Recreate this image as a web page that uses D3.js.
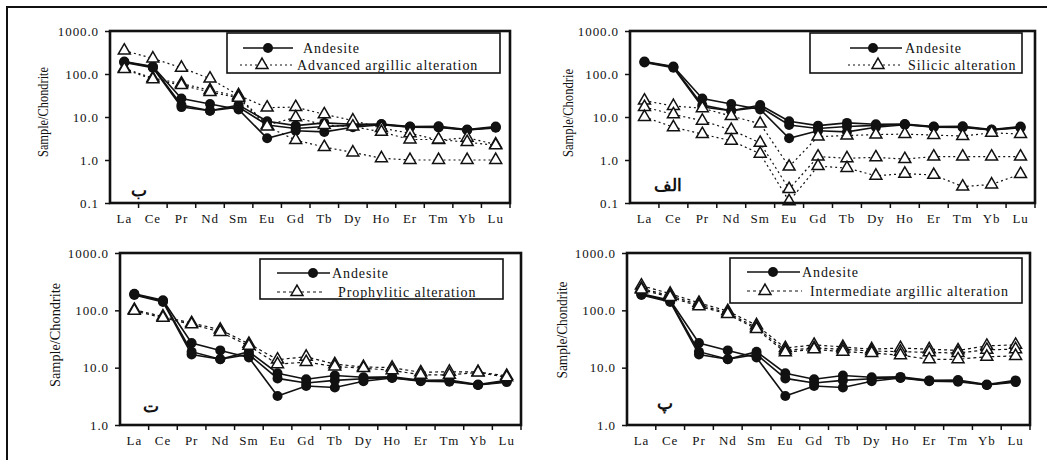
<!DOCTYPE html>
<html><head><meta charset="utf-8">
<script src="https://cdn.jsdelivr.net/npm/d3@7/dist/d3.min.js"></script>
<style>
html,body{margin:0;padding:0;background:#fff;}
svg{display:block;}
text{font-family:"Liberation Serif","Times New Roman",serif;fill:#111;}
</style></head>
<body>
<svg id="chart" width="1053" height="460"></svg>
<script>
// ---------------- data ----------------
const elements = ["La","Ce","Pr","Nd","Sm","Eu","Gd","Tb","Dy","Ho","Er","Tm","Yb","Lu"];
const yTicksTop = [0.1, 1, 10, 100, 1000];
const yTicksBottom = [1, 10, 100, 1000];

const andesite = [
  [195, 150, 27, 20, 15, 3.2, 4.8, 4.5, 5.8, 6.6, 5.8, 5.7, 5.0, 5.6],
  [190, 145, 19, 14, 19, 8.0, 6.3, 7.3, 6.8, 6.9, 6.0, 6.1, 5.1, 6.0],
  [185, 140, 17, 14, 17, 6.5, 5.4, 6.0, 6.4, 6.7, 5.9, 5.9, 5.0, 5.8]
];
const advancedArgillic = [
  [350, 230, 140, 78, 32, 16.5, 17, 11.5, 8.3, 5.5, 4.2, 2.9, 3.3, 2.3],
  [135, 80, 60, 42, 30, 6.5, 9.8, 6.5, 6.0, 4.5, 3.0, 3.0, 2.6, 2.2],
  [130, 75, 55, 38, 28, 6.0, 2.9, 2.0, 1.5, 1.1, 1.0, 1.0, 1.0, 1.0]
];
const silicic = [
  [24, 18, 16, 10.5, 7.0, 0.70, 3.5, 3.7, 3.9, 4.0, 3.8, 3.6, 4.3, 4.0],
  [17, 11.5, 8.2, 5.0, 2.5, 0.21, 1.2, 1.1, 1.15, 1.05, 1.2, 1.2, 1.2, 1.2],
  [10, 5.8, 4.0, 2.8, 1.4, 0.11, 0.72, 0.65, 0.43, 0.48, 0.45, 0.24, 0.27, 0.47]
];
const prophylitic = [
  [102, 78, 60, 46, 26, 13.8, 15.5, 11.5, 10.3, 10, 8.3, 8.5, 8.4, 7.2],
  [98, 74, 57, 42, 24, 11.5, 12.5, 10.5, 9.8, 9, 7.5, 7.5, 8.2, 6.8]
];
const intermediateArgillic = [
  [270, 195, 135, 97, 55, 22, 25, 23, 21, 22, 21, 20, 24, 25],
  [240, 180, 125, 90, 50, 20, 22, 21, 19.5, 19, 18.5, 18, 20.5, 21],
  [230, 170, 118, 86, 47, 18.5, 21, 19, 18, 16.5, 14, 14, 15.5, 16]
];
const legendNames = ["Advanced argillic alteration", "Silicic alteration", "Prophylitic alteration", "Intermediate argillic alteration"];
const panelLetters = ["ب", "الف", "ت", "پ"];
const axisTitles = ["Sample/Chondrite", "Sample/Chondrie", "Sample/Chondrite", "Sample/Chondrite"];

// ---------------- layout ----------------
const panels = [
  {x0:110, x1:510, y0:31, y1:203, ticks:yTicksTop, alt:advancedArgillic, dash:"2,3",
   title:{x:43, y:112, len:90}, letter:{x:139, y:196},
   box:{x:227, y:33, w:273, h:40, r1:48, r2:65, l1:[243,293,268], t1:303, l2:[240,292,262], t2:297}},
  {x0:630, x1:1035, y0:31, y1:203, ticks:yTicksTop, alt:silicic, dash:"2,3",
   title:{x:568, y:113, len:88}, letter:{x:668, y:191},
   box:{x:810, y:33, w:212, h:40, r1:48, r2:65, l1:[850,902,873], t1:905, l2:[848,900,878], t2:908}},
  {x0:120, x1:521, y0:253, y1:425, ticks:yTicksBottom, alt:prophylitic, dash:"3,3",
   title:{x:55, y:335, len:104}, letter:{x:151, y:412},
   box:{x:260, y:259, w:243, h:40, r1:273, r2:292, l1:[277,330,313], t1:332, l2:[277,322,297], t2:338}},
  {x0:627, x1:1030, y0:253, y1:425, ticks:yTicksBottom, alt:intermediateArgillic, dash:"3,3",
   title:{x:562, y:330, len:97}, letter:{x:665, y:409},
   box:{x:730, y:258, w:292, h:45, r1:272, r2:291, l1:[747,800,773], t1:802, l2:[747,802,765], t2:810}}
];

const svg = d3.select("#chart");

// outer frame (top & left)
svg.append("path").attr("d","M7,460 L7,7 L1047,7").attr("fill","none").attr("stroke","#111").attr("stroke-width",2);

const tri = d3.symbol().type(d3.symbolTriangle).size(62);

panels.forEach((p, i) => {
  const g = svg.append("g");
  const x = d3.scaleBand().domain(elements).range([p.x0, p.x1]).paddingInner(0).paddingOuter(0);
  const y = d3.scaleLog().domain([p.ticks[0], p.ticks[p.ticks.length-1]]).range([p.y1, p.y0]);
  const cx = e => x(e) + x.bandwidth()/2;

  // y axis
  const ya = g.append("g").attr("transform", `translate(${p.x0},0)`)
    .call(d3.axisLeft(y).tickValues(p.ticks).tickFormat(d => d.toFixed(1)).tickSize(5).tickPadding(6));
  ya.attr("font-family", null);
  ya.select(".domain").remove();
  ya.selectAll("line").attr("stroke","#111").attr("stroke-width",1.5);
  ya.selectAll("text").attr("font-size",13).attr("letter-spacing","0.9px")
    .attr("font-family","Liberation Serif").attr("fill","#222");

  // x axis labels
  const xa = g.append("g").attr("transform", `translate(0,${p.y1})`)
    .call(d3.axisBottom(x).tickSize(0).tickPadding(11));
  xa.attr("font-family", null);
  xa.select(".domain").remove();
  xa.selectAll("text").attr("font-size",13).attr("letter-spacing","0.9px")
    .attr("font-family","Liberation Serif").attr("fill","#222");
  // x ticks at band boundaries
  g.selectAll(".xb").data(elements.slice(1).concat(["end"])).join("line")
    .attr("x1", e => e === "end" ? p.x1 : x(e)).attr("x2", e => e === "end" ? p.x1 : x(e))
    .attr("y1", p.y1).attr("y2", p.y1 + 5).attr("stroke","#111").attr("stroke-width",1.5);

  // axis title
  g.append("text").attr("transform", `translate(${p.title.x},${p.title.y}) rotate(-90)`)
    .attr("text-anchor","middle").attr("dominant-baseline","central")
    .attr("font-size",15).attr("textLength",p.title.len).attr("lengthAdjust","spacingAndGlyphs")
    .attr("fill","#222").text(axisTitles[i]);

  const line = d3.line().x((d,k) => cx(elements[k])).y(d => y(d));

  // alteration series
  p.alt.forEach(s => {
    g.append("path").attr("d", line(s)).attr("fill","none").attr("stroke","#111")
      .attr("stroke-width",1.2).attr("stroke-dasharray",p.dash);
  });
  // andesite series
  andesite.forEach(s => {
    g.append("path").attr("d", line(s)).attr("fill","none").attr("stroke","#111").attr("stroke-width",1.6);
  });
  andesite.forEach(s => {
    g.selectAll(null).data(s).join("circle")
      .attr("cx",(d,k)=>cx(elements[k])).attr("cy",d=>y(d)).attr("r",5).attr("fill","#111");
  });
  p.alt.forEach(s => {
    g.selectAll(null).data(s).join("path").attr("d",tri)
      .attr("transform",(d,k)=>`translate(${cx(elements[k])},${y(d)})`)
      .attr("fill","#fff").attr("stroke","#111").attr("stroke-width",1.5);
  });

  // plot frame
  g.append("rect").attr("x",p.x0).attr("y",p.y0).attr("width",p.x1-p.x0).attr("height",p.y1-p.y0)
    .attr("fill","none").attr("stroke","#111").attr("stroke-width",2.6);

  // legend
  const b = p.box;
  g.append("rect").attr("x",b.x).attr("y",b.y).attr("width",b.w).attr("height",b.h)
    .attr("fill","#fff").attr("stroke","#111").attr("stroke-width",1.6);
  g.append("line").attr("x1",b.l1[0]).attr("x2",b.l1[1]).attr("y1",b.r1).attr("y2",b.r1)
    .attr("stroke","#111").attr("stroke-width",1.6);
  g.append("circle").attr("cx",b.l1[2]).attr("cy",b.r1).attr("r",5).attr("fill","#111");
  g.append("text").attr("x",b.t1).attr("y",b.r1+4.5).attr("font-size",14).attr("letter-spacing","0.9px").text("Andesite");
  g.append("line").attr("x1",b.l2[0]).attr("x2",b.l2[1]).attr("y1",b.r2).attr("y2",b.r2)
    .attr("stroke","#111").attr("stroke-width",1.2).attr("stroke-dasharray",p.dash);
  g.append("path").attr("d",tri).attr("transform",`translate(${b.l2[2]},${b.r2})`)
    .attr("fill","#fff").attr("stroke","#111").attr("stroke-width",1.5);
  g.append("text").attr("x",b.t2).attr("y",b.r2+4.5).attr("font-size",14).attr("letter-spacing","0.9px").text(legendNames[i]);

  // panel letter
  g.append("text").attr("x",p.letter.x).attr("y",p.letter.y).attr("text-anchor","middle")
    .attr("font-family","DejaVu Sans").attr("font-weight","bold").attr("font-size",17)
    .attr("fill","#1c2b5e").attr("direction","rtl").text(panelLetters[i]);
});
</script>
</body></html>
